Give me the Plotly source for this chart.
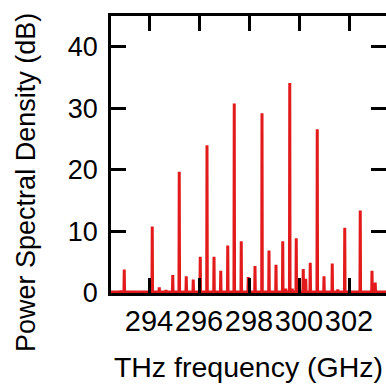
import plotly.graph_objects as go

# Peak comb (GHz) and heights (dB)
peak_freq = [292.87, 293.01, 293.55, 294.13, 294.41, 294.68, 294.95, 295.21, 295.49, 295.77,
             296.05, 296.32, 296.60, 296.87, 297.15, 297.41, 297.69, 297.97, 298.24, 298.52,
             298.80, 299.08, 299.35, 299.47, 299.63, 299.73, 299.89, 300.17, 300.27, 300.45,
             300.73, 301.00, 301.33, 301.55, 301.83, 302.45, 302.92, 303.05]
peak_db = [0.4, 3.8, 0.3, 10.8, 0.9, 0.5, 2.9, 19.7, 2.7, 2.2,
           5.9, 24.0, 5.9, 3.6, 7.7, 30.8, 8.4, 2.6, 4.4, 29.2,
           6.9, 4.6, 8.4, 0.7, 34.1, 0.7, 8.9, 3.9, 2.3, 4.9,
           26.6, 2.7, 4.8, 0.6, 10.6, 13.4, 3.6, 1.7]
baseline_db = 0.15
x_range = [292.48, 303.48]
x_ticks = [294, 296, 298, 300, 302]
y_ticks = [0, 10, 20, 30, 40]

RED = "#e31a1c"
FONT = "Liberation Sans, Arial, Helvetica, sans-serif"

# build spike spectrum
xs, ys = [x_range[0]], [baseline_db]
hw = 0.012
for f, h in zip(peak_freq, peak_db):
    xs += [f - hw, f, f + hw]
    ys += [baseline_db, h, baseline_db]
xs.append(x_range[1])
ys.append(baseline_db)

fig = go.Figure()
fig.add_trace(go.Scatter(x=xs, y=ys, mode="lines",
                         line=dict(color=RED, width=3), showlegend=False,
                         hoverinfo="skip"))
# dummy trace for right-side ticks
fig.add_trace(go.Scatter(x=[x_range[0]], y=[0], yaxis="y2", mode="markers",
                         marker=dict(opacity=0), showlegend=False, hoverinfo="skip"))

fig.update_layout(
    width=386, height=387,
    margin=dict(l=111, r=0, t=16, b=94),
    paper_bgcolor="white", plot_bgcolor="white",
    font=dict(family=FONT, color="black"),
    xaxis=dict(range=x_range, tickvals=x_ticks, ticktext=[str(t) for t in x_ticks],
               ticks="inside", ticklen=15, tickwidth=2.5, tickcolor="black",
               showline=True, linewidth=2.5, linecolor="black", mirror="ticks",
               showgrid=False, zeroline=False, tickangle=0, automargin=False,
               tickfont=dict(size=29, family=FONT),
               title=dict(text="THz frequency (GHz)", font=dict(size=28.5, family=FONT),
                          standoff=22)),
    yaxis=dict(range=[0, 45], tickvals=y_ticks, automargin=False,
               ticks="inside", ticklen=15, tickwidth=2.5, tickcolor="black",
               showline=True, linewidth=2.5, linecolor="black", mirror=False,
               showgrid=False, zeroline=False,
               tickfont=dict(size=27, family=FONT), ticklabelstandoff=5),
    yaxis2=dict(range=[0, 45], tickvals=y_ticks, overlaying="y", side="right",
                ticks="inside", ticklen=15, tickwidth=2.5, tickcolor="black",
                showticklabels=False, showline=False, showgrid=False, zeroline=False,
                automargin=False),
    annotations=[dict(text="Power Spectral Density (dB)", textangle=-90,
                      xref="paper", yref="paper", x=-0.31, y=0.40,
                      xanchor="center", yanchor="middle", showarrow=False,
                      font=dict(size=27, family=FONT, color="black"))],
)

fig.write_html("out.html")
